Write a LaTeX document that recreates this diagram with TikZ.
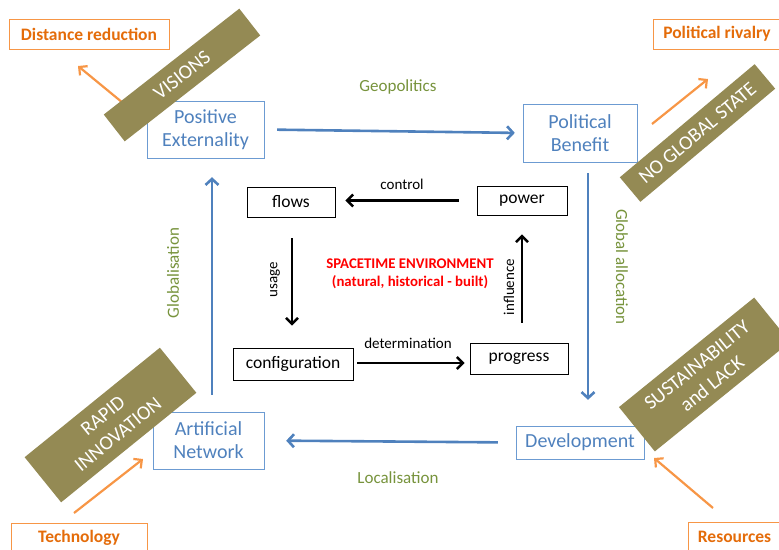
\documentclass[tikz,border=0pt]{standalone}
\usepackage{fontspec}
\setmainfont{Carlito}
\usetikzlibrary{arrows.meta}

\definecolor{netblue}{HTML}{4F81BD}
\definecolor{boxblue}{HTML}{6C9BD2}
\definecolor{labgreen}{HTML}{77933C}
\definecolor{bandolive}{HTML}{948A54}
\definecolor{orline}{HTML}{F79646}
\definecolor{ortext}{HTML}{E46C0A}

\tikzset{
	bluebox/.style={draw=boxblue, text=netblue, align=center, inner sep=0pt, font=\fontsize{20}{23}\selectfont},
	blackbox/.style={draw=black, thick, inner sep=0pt, font=\fontsize{17.5}{20}\selectfont},
	orbox/.style={draw=orline, text=ortext, inner sep=0pt, font=\bfseries\fontsize{17.5}{20}\selectfont},
	band/.style={fill=bandolive, text=white, align=center, inner sep=0pt, font=\fontsize{20}{24}\selectfont},
	biglabel/.style={text=labgreen, font=\fontsize{17}{20}\selectfont},
	smalllabel/.style={font=\fontsize{15}{18}\selectfont},
	bluearrow/.style={draw=netblue, line width=2.6pt, -{Straight Barb[length=6pt,width=13pt]}},
	blackarrow/.style={draw=black, line width=2.4pt, -{Straight Barb[length=6pt,width=12pt]}},
	orarrow/.style={draw=orline, line width=2.2pt, -{Straight Barb[length=6pt,width=12pt]}}
}

\begin{document}
\begin{tikzpicture}[x=1pt,y=-1pt]
		\clip (0,0) rectangle (779,549);

		\node[bluebox, minimum width=117pt, minimum height=57pt] (pe) at (205.5,129.5) {Positive\\Externality};
		\node[bluebox, minimum width=114pt, minimum height=58pt] (pb) at (580,133) {Political\\Benefit};
		\node[bluebox, minimum width=128pt, minimum height=33pt] (dev) at (580,442.5) {Development};
		\node[bluebox, minimum width=111pt, minimum height=57pt] (art) at (208.5,440.5) {Artificial\\Network};

		\draw[bluearrow, shorten <=13pt, shorten >=8pt] (pe.east) -- (pb.west);
		\draw[bluearrow, shorten <=11pt, shorten >=26pt] ([xshift=8pt]pb.south) -- ([xshift=8pt]dev.north);
		\draw[bluearrow, shorten <=18pt, shorten >=22pt] (dev.west) -- (art.east);
		\draw[bluearrow, shorten <=17pt, shorten >=19pt] ([xshift=3.5pt]art.north) -- ([xshift=6.5pt]pe.south);

		\node[biglabel] (geo) at (398,87) {Geopolitics};
		\node[biglabel, rotate=-90] (glob) at (622,267) {Global allocation};
		\node[biglabel] (loc) at (398,478) {Localisation};
		\node[biglabel, rotate=90] (globl) at (173,273) {Globalisation};

		\node[blackbox, minimum width=88pt, minimum height=30pt] (flows) at (291,202) {flows};
		\node[blackbox, minimum width=90pt, minimum height=29pt] (power) at (522,200.5) {power};
		\node[blackbox, minimum width=120pt, minimum height=32pt] (config) at (293,364) {configuration};
		\node[blackbox, minimum width=98pt, minimum height=31pt] (progress) at (519,358.5) {progress};

		\draw[blackarrow, shorten <=18pt, shorten >=10pt] (power.west) -- (power.west -| flows.east);
		\draw[blackarrow, shorten <=21pt, shorten >=22pt] ([xshift=1pt]flows.south) -- ([xshift=-1pt]config.north);
		\draw[blackarrow, shorten <=4pt, shorten >=5pt] ([yshift=1pt]config.east) -- ([yshift=1pt]config.east -| progress.west);
		\draw[blackarrow, shorten <=20pt, shorten >=19pt] ([xshift=3pt]progress.north) -- (power.south);

		\node[smalllabel] (ctrl) at (402,184) {control};
		\node[smalllabel, rotate=90] (use) at (275,280) {usage};
		\node[smalllabel] (det) at (408,343) {determination};
		\node[smalllabel, rotate=90] (infl) at (509,287) {influence};
		\node[text=red, align=center, font=\bfseries\fontsize{14.8}{18}\selectfont] (env) at (410,274) {SPACETIME ENVIRONMENT\\(natural, historical - built)};

		\node[orbox, minimum width=160pt, minimum height=30pt] (dist) at (89,34) {Distance reduction};
		\node[orbox, minimum width=128pt, minimum height=30pt] (rival) at (717,34) {Political rivalry};
		\node[orbox, minimum width=136pt, minimum height=30pt] (tech) at (79,538) {Technology};
		\node[orbox, minimum width=93pt, minimum height=30pt] (res) at (734.5,537) {Resources};

		\coordinate (vistail) at (123,103);
		\coordinate (vishead) at (78,66);
		\coordinate (ngtail) at (652,124);
		\coordinate (nghead) at (708,79);
		\coordinate (techtail) at (74,513);
		\coordinate (techhead) at (143,459);
		\coordinate (restail) at (713,508);
		\coordinate (reshead) at (654,458);
		\draw[orarrow] (vistail) -- (vishead);
		\draw[orarrow] (ngtail) -- (nghead);
		\draw[orarrow] (techtail) -- (techhead);
		\draw[orarrow] (restail) -- (reshead);

		\node[band, rotate=38, minimum width=172pt, minimum height=34pt] (vis) at (182,75) {VISIONS};
		\node[band, rotate=40, minimum width=176pt, minimum height=32pt] (ngs) at (697.5,133) {NO GLOBAL STATE};
		\node[band, rotate=39, minimum width=174pt, minimum height=57pt] (sus) at (704.5,374.5) {SUSTAINABILITY\\and LACK};
		\node[band, rotate=39, minimum width=174pt, minimum height=58pt] (rap) at (110.5,425) {RAPID\\INNOVATION};
	\end{tikzpicture}
\end{document}
